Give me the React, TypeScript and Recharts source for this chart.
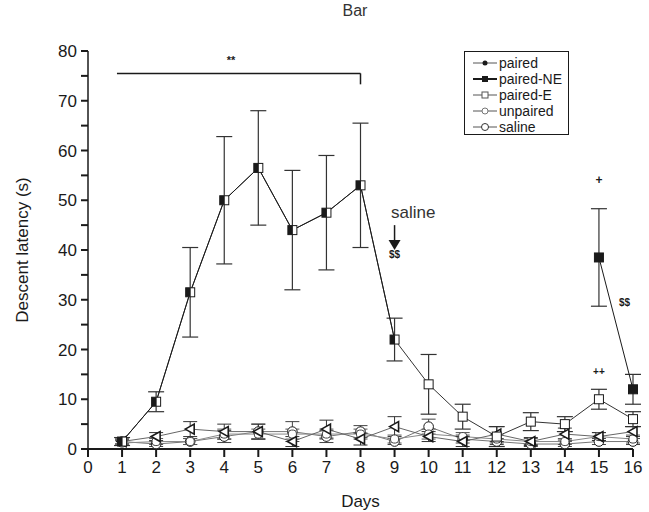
import React from 'react';
import { ComposedChart, Line, XAxis, YAxis, ErrorBar, ReferenceLine, ReferenceDot } from 'recharts';

const days = [1, 2, 3, 4, 5, 6, 7, 8, 9, 10, 11, 12, 13, 14, 15, 16];
const pairedE = [1.5, 9.5, 31.5, 50, 56.5, 44, 47.5, 53, 22, 13, 6.5, 2.5, 5.5, 5, 10, 6];
const pairedEErr = [0.8, 2, 9, 12.8, 11.5, 12, 11.5, 12.5, 4.3, 6, 2.5, 2, 1.8, 1.5, 2, 1.5];
const pairedNE = [1.5, 9.5, 31.5, 50, 56.5, 44, 47.5, 53, 22, null, null, null, null, null, 38.5, 12];
const pairedNEErr = [0, 0, 0, 0, 0, 0, 0, 0, 0, null, null, null, null, null, 9.8, 3];
const paired = [1.5, 2.5, 4, 3.5, 3.5, 1.5, 4, 2, 4.5, 2.5, 1.5, 3, 1.5, 3, 2.5, 3.5];
const pairedErr = [0.5, 0.8, 1.5, 1.5, 1.5, 1, 1.8, 1.2, 2, 1, 1, 1.5, 0.8, 1.2, 0.8, 1];
const unpaired = [1.2, 1.5, 1.5, 3, 3, 3, 3, 3, 2, 3, 2.5, 2, 1.5, 1.5, 2.5, 2];
const unpairedErr = [0.5, 0.6, 0.6, 1, 1, 1, 1, 1, 0.8, 1, 0.8, 0.8, 0.6, 0.6, 0.8, 0.8];
const saline = [1.5, 1, 1.5, 2.5, 3.5, 3.5, 2.5, 3.5, 1.5, 4.5, 2, 1.5, 1, 1, 1.5, 1.5];
const salineErr = [0.5, 0.5, 0.6, 1.2, 1.5, 2, 1.2, 1.2, 0.6, 1.5, 0.8, 0.6, 0.5, 0.5, 0.6, 0.6];

const xTicks = [0, 1, 2, 3, 4, 5, 6, 7, 8, 9, 10, 11, 12, 13, 14, 15, 16];
const yTicks = [0, 5, 10, 15, 20, 25, 30, 35, 40, 45, 50, 55, 60, 65, 70, 75, 80];

const legendItems = ['paired', 'paired-NE', 'paired-E', 'unpaired', 'saline'];

const data = days.map((d, i) => ({
  day: d,
  pairedE: pairedE[i],
  pairedEErr: pairedEErr[i],
  pairedNE: pairedNE[i],
  pairedNEErr: pairedNEErr[i],
  paired: paired[i],
  pairedErr: pairedErr[i],
  unpaired: unpaired[i],
  unpairedErr: unpairedErr[i],
  saline: saline[i],
  salineErr: salineErr[i],
}));

const FONT = '"Liberation Sans", Arial, sans-serif';
const INK = '#1a1a1a';

const openSquare = (props: any) => {
  const { cx, cy, index } = props;
  if (cx == null || cy == null) return <g key={index} />;
  return <rect key={index} x={cx - 4.5} y={cy - 4.5} width={9} height={9} fill="#fff" stroke={INK} strokeWidth={1} />;
};

// filled square; where it sits on top of paired-E only the left half is black
const neSquare = (props: any) => {
  const { cx, cy, index, payload } = props;
  if (cx == null || cy == null || payload.pairedNE == null) return <g key={index} />;
  if (payload.pairedNE === payload.pairedE) {
    return <rect key={index} x={cx - 4.5} y={cy - 4.5} width={5} height={9} fill={INK} />;
  }
  return <rect key={index} x={cx - 4.5} y={cy - 4.5} width={9} height={9} fill={INK} stroke={INK} />;
};

const triangle = (props: any) => {
  const { cx, cy, index } = props;
  if (cx == null || cy == null) return <g key={index} />;
  return (
    <path key={index} d={`M${cx - 5},${cy} L${cx + 4},${cy - 5} L${cx + 4},${cy + 5} Z`}
      fill="#fff" stroke={INK} strokeWidth={1.6} />
  );
};

const smallCircle = (props: any) => {
  const { cx, cy, index } = props;
  if (cx == null || cy == null) return <g key={index} />;
  return <rect key={index} x={cx - 4} y={cy - 4} width={8} height={8} rx={3} fill="#fff" stroke="#444" strokeWidth={1} />;
};

const openCircle = (props: any) => {
  const { cx, cy, index } = props;
  if (cx == null || cy == null) return <g key={index} />;
  return <circle key={index} cx={cx} cy={cy} r={4.8} fill="#fff" stroke={INK} strokeWidth={1} />;
};

const arrowHead = (props: any) => {
  const { cx, cy } = props;
  return <path d={`M${cx - 6},${cy - 9} L${cx + 6},${cy - 9} L${cx},${cy + 1} Z`} fill={INK} />;
};

// text drawn at a data point
const note = (value: string, size: number, bold = true, color = INK) => (props: any) => (
  <text x={props.cx} y={props.cy} textAnchor="middle" dominantBaseline="central"
    fontSize={size} fontWeight={bold ? 'bold' : 'normal'} fill={color} fontFamily={FONT}>
    {value}
  </text>
);

const textStyle = { fontFamily: FONT, fill: INK };

function Legend() {
  const markers = [
    (x: number, y: number) => <circle cx={x} cy={y} r={2.5} fill={INK} />,
    (x: number, y: number) => <rect x={x - 3} y={y - 3} width={6} height={6} fill={INK} />,
    (x: number, y: number) => <rect x={x - 3} y={y - 3} width={6} height={6} fill="#fff" stroke="#555" />,
    (x: number, y: number) => <circle cx={x} cy={y} r={3} fill="#fff" stroke="#777" />,
    (x: number, y: number) => <circle cx={x} cy={y} r={3.5} fill="#fff" stroke="#333" />,
  ];
  return (
    <svg width={106} height={86} style={{ position: 'absolute', left: 464, top: 51 }}>
      <rect x={0.5} y={0.5} width={104} height={83} fill="#fff" stroke={INK} />
      {legendItems.map((name, i) => {
        const y = 12 + i * 16;
        return (
          <g key={name}>
            <line x1={9} x2={33} y1={y} y2={y} stroke={i === 1 ? INK : '#555'} strokeWidth={i === 1 ? 2 : 1} />
            {markers[i](21, y)}
            <text x={35} y={y + 5} fontSize={14} style={textStyle}>{name}</text>
          </g>
        );
      })}
    </svg>
  );
}

export default function App() {
  return (
    <div style={{ position: 'absolute', left: 0, top: 0, width: 649, height: 512, background: '#fff' }}>
      <div style={{ position: 'absolute', left: 0, width: 710, top: 2, textAlign: 'center', fontFamily: FONT, fontSize: 16, color: '#333' }}>
        Bar
      </div>
      <ComposedChart width={649} height={512} data={data} margin={{ top: 51, right: 16, bottom: 0, left: 0 }}>
        <XAxis
          dataKey="day"
          type="number"
          domain={[0, 16]}
          ticks={xTicks}
          interval={0}
          height={63}
          tickSize={8}
          tickMargin={4}
          axisLine={{ stroke: INK, strokeWidth: 2 }}
          tickLine={{ stroke: INK, strokeWidth: 2 }}
          tick={{ fontSize: 17, fill: INK, fontFamily: FONT }}
          label={{ value: 'Days', position: 'insideBottom', offset: 5, fontSize: 17, fill: INK, fontFamily: FONT }}
        />
        <YAxis
          type="number"
          domain={[0, 80]}
          ticks={yTicks}
          interval={0}
          width={88}
          tickSize={7}
          tickMargin={4}
          axisLine={{ stroke: INK, strokeWidth: 1.5 }}
          tickLine={{ stroke: INK, strokeWidth: 2 }}
          tickFormatter={(v: number) => (v % 10 === 0 ? String(v) : '')}
          tick={{ fontSize: 17, fill: INK, fontFamily: FONT }}
          label={{
            value: 'Descent latency (s)', angle: -90, position: 'insideLeft', offset: 22,
            style: { textAnchor: 'middle', fontSize: 17, fill: INK, fontFamily: FONT },
          }}
        />

        <ReferenceLine segment={[{ x: 0.85, y: 75.5 }, { x: 8, y: 75.5 }]} stroke={INK} strokeWidth={1.5} />
        <ReferenceLine segment={[{ x: 8, y: 75.5 }, { x: 8, y: 73.3 }]} stroke={INK} strokeWidth={1.5} />
        <ReferenceDot x={4.2} y={78.2} shape={note('**', 11)} />
        <ReferenceDot x={9.55} y={47.5} shape={note('saline', 17, false, '#333')} />
        <ReferenceLine segment={[{ x: 9, y: 45 }, { x: 9, y: 41 }]} stroke={INK} strokeWidth={1.5} />
        <ReferenceDot x={9} y={40.2} shape={arrowHead} />
        <ReferenceDot x={9.0} y={39} shape={note('$$', 10)} />
        <ReferenceDot x={15} y={54} shape={note('+', 12)} />
        <ReferenceDot x={15.75} y={29.5} shape={note('$$', 10)} />
        <ReferenceDot x={15} y={15.5} shape={note('++', 10)} />

        <Line dataKey="saline" stroke="#777" strokeWidth={1} dot={openCircle} activeDot={false} isAnimationActive={false}>
          <ErrorBar dataKey="salineErr" width={7} stroke="#444" strokeWidth={1} direction="y" />
        </Line>
        <Line dataKey="unpaired" stroke="#888" strokeWidth={1} dot={smallCircle} activeDot={false} isAnimationActive={false}>
          <ErrorBar dataKey="unpairedErr" width={7} stroke="#555" strokeWidth={1} direction="y" />
        </Line>
        <Line dataKey="paired" stroke="#666" strokeWidth={1} dot={triangle} activeDot={false} isAnimationActive={false}>
          <ErrorBar dataKey="pairedErr" width={7} stroke="#333" strokeWidth={1} direction="y" />
        </Line>
        <Line dataKey="pairedE" stroke="#333" strokeWidth={1} dot={openSquare} activeDot={false} isAnimationActive={false}>
          <ErrorBar dataKey="pairedEErr" width={8} stroke="#333" strokeWidth={1.2} direction="y" />
        </Line>
        <Line dataKey="pairedNE" stroke={INK} strokeWidth={1} dot={neSquare} activeDot={false}
          connectNulls={false} isAnimationActive={false}>
          <ErrorBar dataKey="pairedNEErr" width={8} stroke="#333" strokeWidth={1.2} direction="y" />
        </Line>
      </ComposedChart>
      <Legend />
    </div>
  );
}
